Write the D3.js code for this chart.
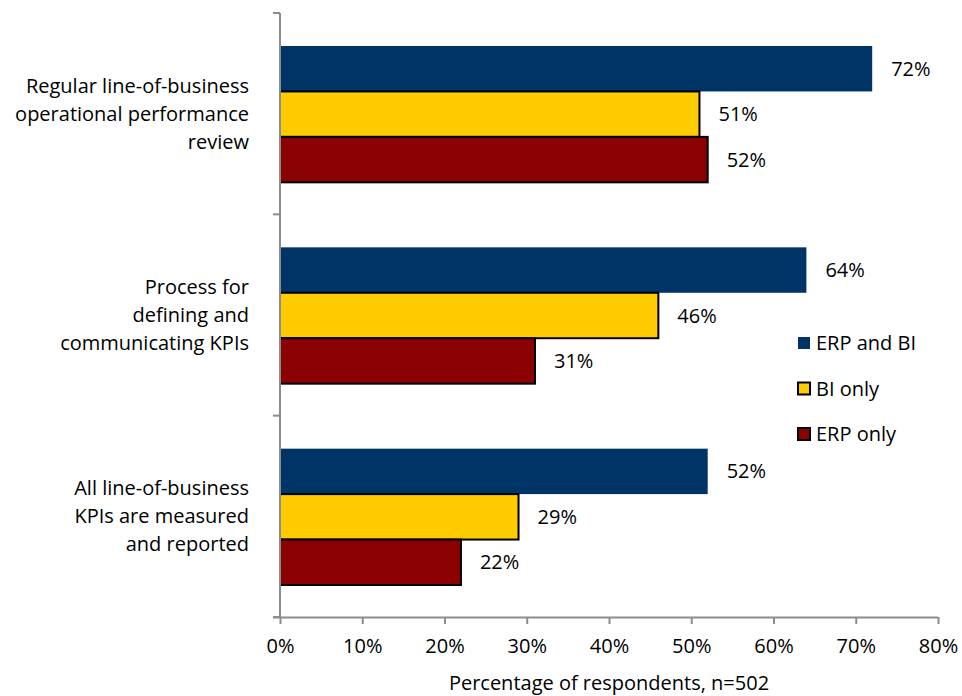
<!DOCTYPE html>
<html>
<head>
<meta charset="utf-8">
<script src="https://cdn.jsdelivr.net/npm/d3@7"></script>
<style>
  body { margin: 0; background: #fff; }
  text { font-family: "Open Sans", sans-serif; fill: #000; }
</style>
</head>
<body>
<div id="chart"></div>
<script>
const categories = [
  ["Regular line-of-business", "operational performance", "review"],
  ["Process for", "defining and", "communicating KPIs"],
  ["All line-of-business", "KPIs are measured", "and reported"]
];
const seriesNames = ["ERP and BI", "BI only", "ERP only"];
const erpAndBi = [72, 64, 52];
const biOnly = [51, 46, 29];
const erpOnly = [52, 31, 22];
const xTicks = [0, 10, 20, 30, 40, 50, 60, 70, 80];

const colors = ["#003366", "#FFCC00", "#8B0000"];
const strokes = ["none", "#000", "#000"];
const values = [erpAndBi, biOnly, erpOnly];

const W = 962, H = 696;
const margin = {top: 13, right: 25, bottom: 79, left: 280},
    width = W - margin.left - margin.right,
    height = H - margin.top - margin.bottom;
const fs = "20px";

const svg = d3.select("#chart")
  .append("svg")
    .attr("width", W)
    .attr("height", H)
  .append("g")
    .attr("transform", `translate(${margin.left},${margin.top})`);

const x = d3.scaleLinear().domain([0, 80]).range([0, 658]);

const y = d3.scaleBand()
  .domain(d3.range(categories.length))
  .range([0, height]);

const inner = d3.scaleBand()
  .domain(d3.range(seriesNames.length))
  .range([33, y.bandwidth() - 32]);

// bars
seriesNames.forEach(function(name, s) {
  const g = svg.append("g");
  g.selectAll("rect")
    .data(values[s])
    .enter()
    .append("rect")
      .attr("x", x(0))
      .attr("y", function(d, i) { return y(i) + inner(s); })
      .attr("width", function(d) { return x(d) - x(0); })
      .attr("height", inner.bandwidth())
      .attr("fill", colors[s])
      .attr("stroke", strokes[s])
      .attr("stroke-width", 2);
  g.selectAll("text")
    .data(values[s])
    .enter()
    .append("text")
      .attr("x", function(d) { return x(d) + 19; })
      .attr("y", function(d, i) { return y(i) + inner(s) + inner.bandwidth() / 2; })
      .attr("dy", "0.35em")
      .style("font-size", fs)
      .text(function(d) { return d + "%"; });
});

// y axis
const axisColor = "#8c8c8c";
svg.append("line")
  .attr("x1", 0).attr("x2", 0)
  .attr("y1", 0).attr("y2", height)
  .attr("stroke", axisColor).attr("stroke-width", 2);
svg.selectAll(".ytick")
  .data(d3.range(categories.length + 1))
  .enter()
  .append("line")
    .attr("x1", -7).attr("x2", 0)
    .attr("y1", function(d) { return d * y.step(); })
    .attr("y2", function(d) { return d * y.step(); })
    .attr("stroke", axisColor).attr("stroke-width", 2);

// category labels
categories.forEach(function(lines, i) {
  const t = svg.append("text")
    .attr("text-anchor", "end")
    .style("font-size", fs);
  lines.forEach(function(l, j) {
    t.append("tspan")
      .attr("x", -31)
      .attr("y", y(i) + y.bandwidth() / 2 + (j - 1) * 28)
      .attr("dy", "0.35em")
      .text(l);
  });
});

// x axis
const xAxis = svg.append("g")
  .attr("transform", `translate(0, ${height})`)
  .call(d3.axisBottom(x).tickValues(xTicks).tickSize(7).tickPadding(15)
    .tickFormat(function(d) { return d + "%"; }));
xAxis.select(".domain").attr("stroke", axisColor).attr("stroke-width", 2)
  .attr("d", `M-7,0.5H${x(80)}`);
xAxis.selectAll(".tick line").attr("stroke", axisColor).attr("stroke-width", 2);
xAxis.selectAll(".tick text").style("font-size", fs).attr("fill", "#000");

svg.append("text")
  .attr("x", x(40))
  .attr("y", height + 73)
  .attr("text-anchor", "middle")
  .style("font-size", fs)
  .text("Percentage of respondents, n=502");

// legend
const legend = svg.selectAll(".legend")
  .data(seriesNames)
  .enter()
  .append("g")
    .attr("transform", function(d, i) { return `translate(518, ${324 + i * 45.5})`; });
legend.append("rect")
  .attr("width", 12).attr("height", 12)
  .attr("fill", function(d, i) { return colors[i]; })
  .attr("stroke", function(d, i) { return strokes[i]; })
  .attr("stroke-width", 2);
legend.append("text")
  .attr("x", 18).attr("y", 6).attr("dy", "0.35em")
  .style("font-size", fs)
  .text(function(d) { return d; });
</script>
</body>
</html>
